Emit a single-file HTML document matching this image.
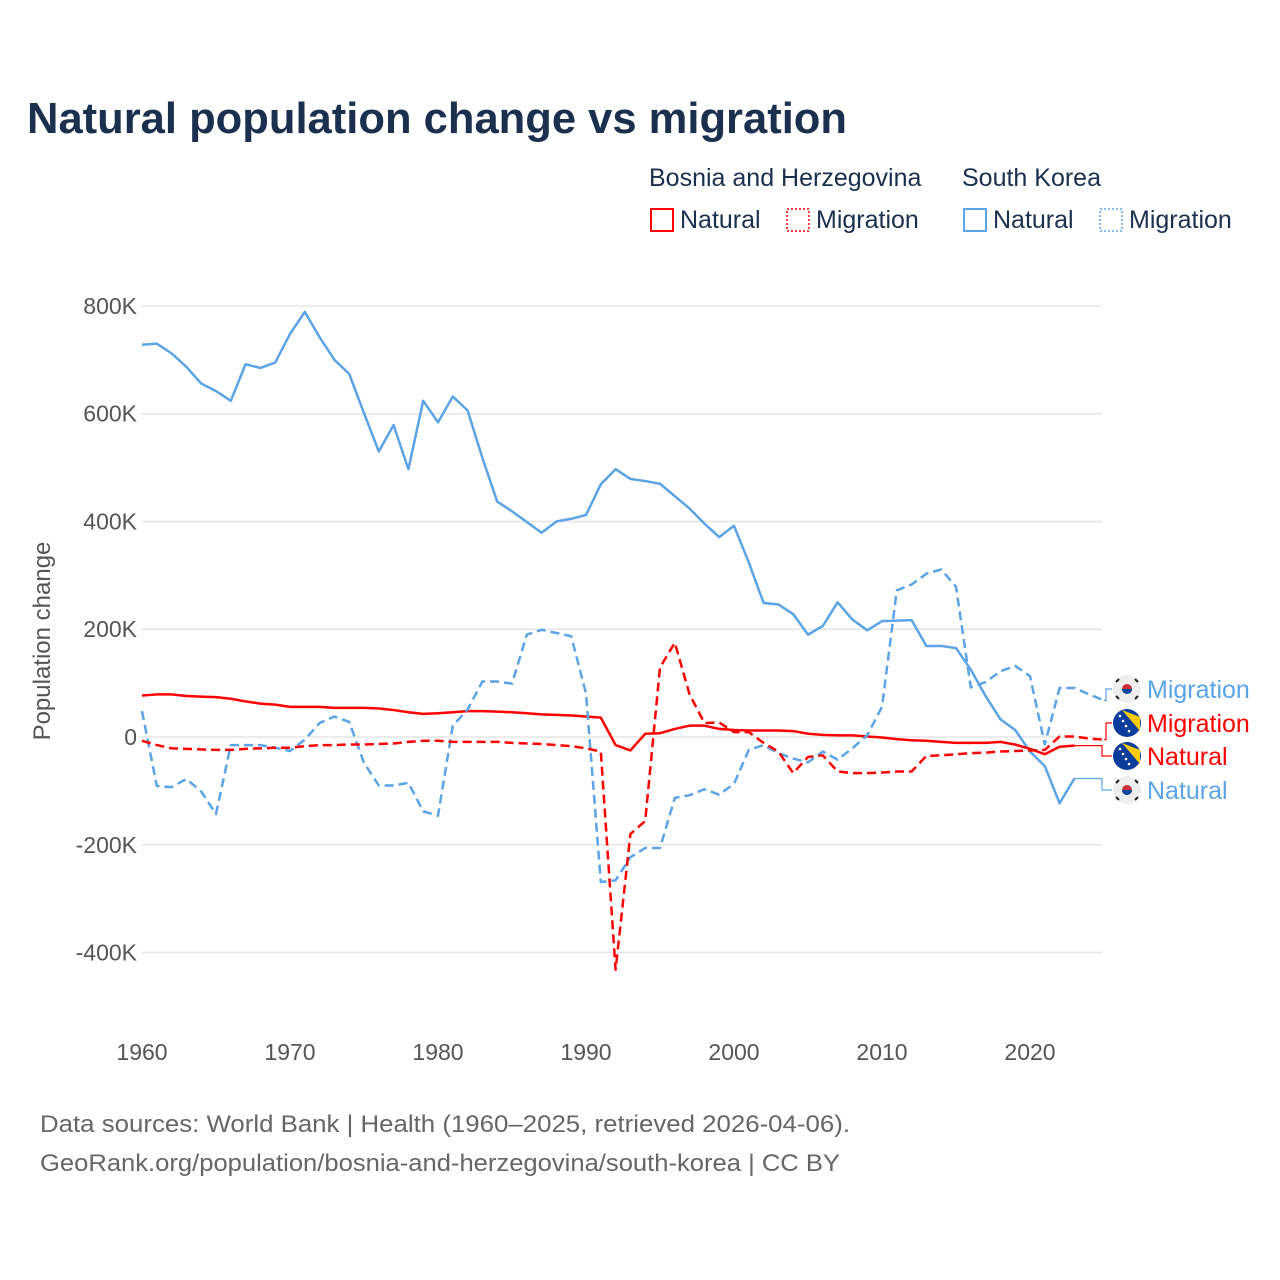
<!DOCTYPE html>
<html><head><meta charset="utf-8"><style>
body{margin:0;background:#fff;font-family:"Liberation Sans",sans-serif}
#wrap{position:relative;width:1280px;height:1280px;overflow:hidden}
</style></head><body>
<div id="wrap">
<svg id="chart" width="1280" height="1280" xmlns="http://www.w3.org/2000/svg">
<text x="27" y="133" font-size="44" font-weight="bold" fill="#1b2f4e" textLength="820" lengthAdjust="spacingAndGlyphs">Natural population change vs migration</text>
<g font-size="25" fill="#1b2f4e">
<text x="649" y="186">Bosnia and Herzegovina</text>
<text x="962" y="186">South Korea</text>
<rect x="651" y="209" width="22" height="22" fill="none" stroke="#ff0000" stroke-width="2"/>
<text x="680" y="228">Natural</text>
<rect x="787" y="209" width="22" height="22" fill="none" stroke="#ff0000" stroke-width="1.5" stroke-dasharray="2 2"/>
<text x="816" y="228">Migration</text>
<rect x="964" y="209" width="22" height="22" fill="none" stroke="#5ba4e6" stroke-width="2"/>
<text x="993" y="228">Natural</text>
<rect x="1100" y="209" width="22" height="22" fill="none" stroke="#5ba4e6" stroke-width="1.5" stroke-dasharray="2 2"/>
<text x="1129" y="228">Migration</text>
</g>
<text transform="translate(50,641) rotate(-90)" text-anchor="middle" font-size="24" fill="#555">Population change</text>
<g id="grid"></g><g id="series"></g><g id="labels"></g>
<text x="40" y="1132" font-size="24" fill="#666" textLength="810" lengthAdjust="spacingAndGlyphs">Data sources: World Bank | Health (1960–2025, retrieved 2026-04-06).</text>
<text x="40" y="1171" font-size="24" fill="#666" textLength="800" lengthAdjust="spacingAndGlyphs">GeoRank.org/population/bosnia-and-herzegovina/south-korea | CC BY</text>
</svg></div>
<script>
const yTicks=[800,600,400,200,0,-200,-400];
const yTickLabels=["800K","600K","400K","200K","0","-200K","-400K"];
const xTicks=[1960,1970,1980,1990,2000,2010,2020];
const korNatural=[728,730,712,687,656,642,624,692,685,695,748,789,742,700,674,601,530,579,497,624,584,632,606,518,437,419,399,379,400,405,412,469,497,479,475,470,447,424,396,371,392,324,249,246,228,190,206,250,218,198,215,216,217,169,169,165,125,76,33,13,-27,-54,-123,-77];
const korMigration=[48,-91,-93,-78,-101,-143,-15,-15,-15,-20,-26,-5,26,38,28,-48,-90,-90,-85,-138,-146,21,51,103,103,99,190,199,193,187,81,-269,-266,-223,-206,-206,-113,-108,-97,-107,-87,-24,-15,-30,-40,-47,-27,-42,-21,3,56,272,283,303,311,279,92,102,122,132,113,-14,91,91,79,68];
const bihNatural=[77,79,79,76,75,74,71,66,62,60,56,56,56,54,54,54,53,50,46,43,44,46,48,48,47,46,44,42,41,40,38,36,-15,-25,6,7,15,21,21,15,13,12,12,12,11,6,4,3,3,1,-1,-4,-6,-7,-9,-11,-11,-11,-9,-14,-22,-32,-18,-16];
const bihMigration=[-7,-15,-21,-22,-23,-24,-24,-22,-21,-20,-20,-17,-15,-15,-14,-14,-13,-12,-9,-7,-7,-9,-9,-9,-9,-11,-12,-13,-15,-17,-21,-27,-432,-180,-156,129,175,79,26,27,9,9,-11,-27,-67,-37,-34,-64,-67,-67,-66,-64,-64,-35,-34,-32,-30,-29,-27,-26,-25,-24,1,1,-3,-5];
const NS="http://www.w3.org/2000/svg";
const xs=y=>142+(y-1960)*14.8;
const ys=v=>737-v*0.5388;
const grid=document.getElementById('grid');
yTicks.forEach((t,i)=>{
 const l=document.createElementNS(NS,'line');
 l.setAttribute('x1',142);l.setAttribute('x2',1102);l.setAttribute('y1',ys(t));l.setAttribute('y2',ys(t));
 l.setAttribute('stroke','#e6e6e6');l.setAttribute('stroke-width','1.5');
 
 
 grid.appendChild(l);
 const tx=document.createElementNS(NS,'text');
 tx.setAttribute('x',137);tx.setAttribute('y',ys(t)+8);tx.setAttribute('text-anchor','end');
 tx.setAttribute('font-size','23');tx.setAttribute('fill','#555');tx.textContent=yTickLabels[i];
 
 
 grid.appendChild(tx);
});
xTicks.forEach(t=>{
 const tx=document.createElementNS(NS,'text');
 tx.setAttribute('x',xs(t));tx.setAttribute('y',1060);tx.setAttribute('text-anchor','middle');
 tx.setAttribute('font-size','23');tx.setAttribute('fill','#555');tx.textContent=t;
 
 
 grid.appendChild(tx);
});
const ser=document.getElementById('series');
function line(arr,color,dash,name){
 const p=document.createElementNS(NS,'polyline');
 p.setAttribute('points',arr.map((v,i)=>xs(1960+i)+','+ys(v)).join(' '));
 p.setAttribute('fill','none');p.setAttribute('stroke',color);p.setAttribute('stroke-width','2.5');
 p.setAttribute('stroke-linejoin','round');
 if(dash)p.setAttribute('stroke-dasharray','9 5');
 
 
 ser.appendChild(p);
}
const BLUE='#5ba4e6',RED='#ff0000';
line(korNatural,BLUE,false,'line-korea-natural');
line(bihNatural,RED,false,'line-bih-natural');
line(korMigration,BLUE,true,'line-korea-migration');
line(bihMigration,RED,true,'line-bih-migration');
const lab=document.getElementById('labels');
const ends=[[korMigration,BLUE,'Migration',689,'kor'],[bihMigration,RED,'Migration',723,'bih'],[bihNatural,RED,'Natural',756,'bih'],[korNatural,BLUE,'Natural',790,'kor']];
ends.forEach(([arr,c,t,ly,cty])=>{
 const ex=xs(1960+arr.length-1),ey=ys(arr[arr.length-1]);
 const mx=Math.max(ex,1100)+2;
 const pl=document.createElementNS(NS,'polyline');
 pl.setAttribute('points',`${ex},${ey} ${mx},${ey} ${mx},${ly} 1112,${ly}`);
 pl.setAttribute('fill','none');pl.setAttribute('stroke',c);pl.setAttribute('stroke-width','1.2');
 
 
 lab.appendChild(pl);
 const g=document.createElementNS(NS,'g');
 
 
 if(cty==='kor'){
  g.innerHTML=`<circle cx="1127" cy="${ly}" r="14" fill="#eee"/><circle cx="1127" cy="${ly}" r="5" fill="#cd2e3a"/><path d="M1122 ${ly} a5 5 0 0 0 10 0z" fill="#0047a0"/><g stroke="#222" stroke-width="2"><line x1="1116" y1="${ly-7}" x2="1119" y2="${ly-10}"/><line x1="1135" y1="${ly-10}" x2="1138" y2="${ly-7}"/><line x1="1116" y1="${ly+7}" x2="1119" y2="${ly+10}"/><line x1="1135" y1="${ly+10}" x2="1138" y2="${ly+7}"/></g>`;
 }else{
  g.innerHTML=`<circle cx="1127" cy="${ly}" r="14" fill="#0a3d9c"/><path d="M1122 ${ly-13} L1140 ${ly-6} L1140 ${ly+8} Z" fill="#fecb00"/><g fill="#fff"><circle cx="1120" cy="${ly-7}" r="1.3"/><circle cx="1123" cy="${ly-2}" r="1.3"/><circle cx="1126" cy="${ly+3}" r="1.3"/><circle cx="1129" cy="${ly+8}" r="1.3"/></g>`;
 }
 lab.appendChild(g);
 const tx=document.createElementNS(NS,'text');
 tx.setAttribute('x',1147);tx.setAttribute('y',ly+9);tx.setAttribute('font-size','25');tx.setAttribute('fill',c);
 tx.textContent=t;
 
 
 lab.appendChild(tx);
});
</script>
</body></html>
